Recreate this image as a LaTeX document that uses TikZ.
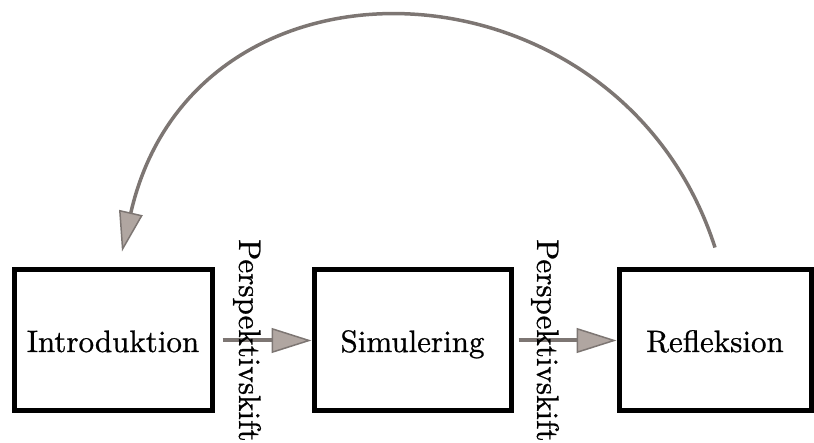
\documentclass[tikz,border=0pt]{standalone}
\usepackage{fontspec}
\usetikzlibrary{arrows.meta}

% the 10pt optical size, slightly emboldened, for the large labels
\newfontfamily\stagefont{lmroman10-regular}[Extension=.otf, FakeBold=0.8]

\definecolor{linegray}{RGB}{125,118,115}
\definecolor{headfill}{RGB}{176,166,161}

\tikzset{
  stagebox/.style={draw=black, line width=5pt, fill=white,
    minimum width=198pt, minimum height=141pt, inner sep=0pt,
    text height=23pt, text depth=0pt,
    font=\stagefont\fontsize{31}{37}\selectfont},
  shiftlabel/.style={rotate=-90, inner sep=0pt,
    font=\stagefont\fontsize{31}{37}\selectfont},
  flow/.style={draw=linegray, line width=4pt,
    -{Triangle[length=40pt, width=25pt, fill=headfill, line width=1.5pt]}},
  loopback/.style={draw=linegray, line width=3.5pt,
    -{Triangle[length=40pt, width=24pt, fill=headfill, line width=1.5pt]}}
}

\begin{document}
\begin{tikzpicture}[x=1pt, y=-1pt]
  \useasboundingbox (0,0) rectangle (814,443);

  % the three stages
  \node[stagebox] (intro) at (113,340.5) {Introduktion};
  \node[stagebox, minimum width=197pt] (sim) at (412.5,340.5) {Simulering};
  \node[stagebox, minimum width=192pt] (refl) at (715,340.5) {Refleksion};

  % change of perspective between the stages
  \draw[flow] ([xshift=8pt]intro.east) -- (sim.west);
  \draw[flow] ([xshift=5pt]sim.east) -- (refl.west);
  \node[shiftlabel, anchor=west] (shiftA) at (247,239) {Perspektivskift};
  \node[shiftlabel, anchor=west] (shiftB) at (545,239) {Perspektivskift};

  % return from reflection to introduction
  \coordinate (loopstart) at ([yshift=20pt]refl.north);
  \coordinate (loopend) at ([xshift=9pt, yshift=16pt]intro.north);
  \draw[loopback] (loopstart) .. controls (620,-48) and (195,-68) .. (loopend);
\end{tikzpicture}
\end{document}
